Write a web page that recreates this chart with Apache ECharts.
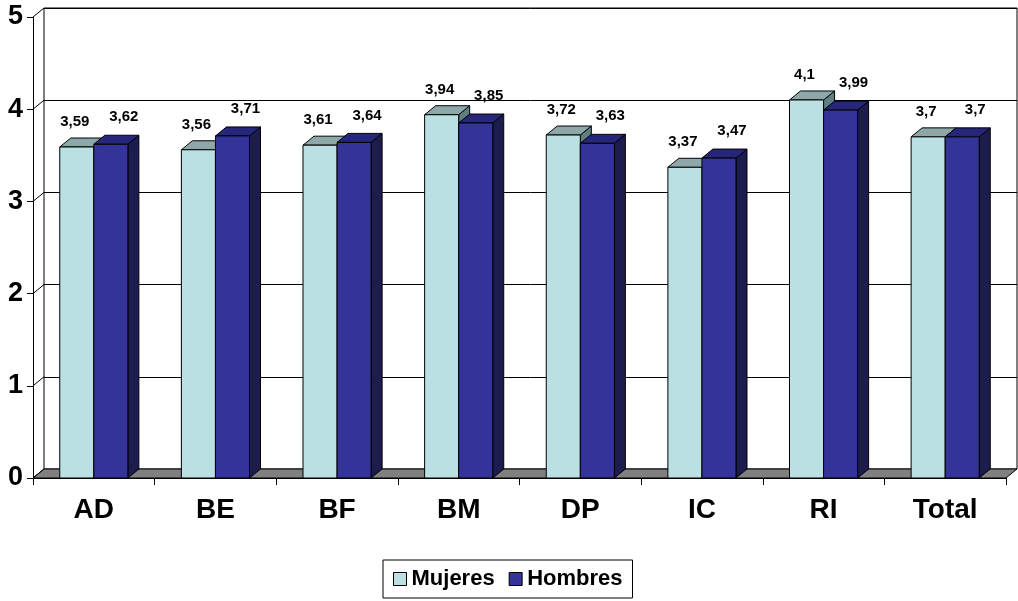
<!DOCTYPE html>
<html>
<head>
<meta charset="utf-8">
<script src="https://cdn.jsdelivr.net/npm/echarts@6/dist/echarts.min.js"></script>
<style>
  html, body { margin: 0; padding: 0; background: #fff; }
  #chart { width: 1018px; height: 601px; }
</style>
</head>
<body>
<div id="chart"></div>
<script>
// Average scores per unit, by gender
const categories = ['AD', 'BE', 'BF', 'BM', 'DP', 'IC', 'RI', 'Total'];
const mujeres = [3.59, 3.56, 3.61, 3.94, 3.72, 3.37, 4.1, 3.7];
const hombres = [3.62, 3.71, 3.64, 3.85, 3.63, 3.47, 3.99, 3.7];
const yTicks = [0, 1, 2, 3, 4, 5];

const FONT = '"Liberation Sans", Arial, Helvetica, sans-serif';
const DX = 11, DY = -9;      // depth offset of the 3D box
const BAR_FRAC = 0.28;       // width of one bar as a share of a category band

const COLORS_M = { front: '#BBE0E3', top: '#8EA8AA', side: '#5F7F81' };
const COLORS_H = { front: '#333399', top: '#26267A', side: '#1C1C4E' };

function fmt(v) { return String(v).replace('.', ','); }

// A box-shaped column: front face, top face, right side face and its value label
function bar3d(side, colors) {
  return function (params, api) {
    const idx = api.value(0), v = api.value(1);
    const top = api.coord([idx, v]);
    const base = api.coord([idx, 0]);
    const band = api.size([1, 0])[0];
    const w = band * BAR_FRAC;
    const x0 = side === 0 ? top[0] - w : top[0];
    const x1 = x0 + w;
    const yt = top[1], yb = base[1];
    const lx = side === 0 ? x0 + w / 2 - 2 : x0 + w / 2 + 13;
    const ly = side === 0 ? yt - 25 : yt - 27;
    const edge = { stroke: '#000', lineWidth: 1 };
    return {
      type: 'group',
      children: [
        { type: 'polygon', shape: { points: [[x1, yt], [x1 + DX, yt + DY], [x1 + DX, yb + DY], [x1, yb]] },
          style: Object.assign({ fill: colors.side }, edge) },
        { type: 'polygon', shape: { points: [[x0, yt], [x1, yt], [x1 + DX, yt + DY], [x0 + DX, yt + DY]] },
          style: Object.assign({ fill: colors.top }, edge) },
        { type: 'rect', shape: { x: x0, y: yt, width: w, height: yb - yt },
          style: Object.assign({ fill: colors.front }, edge) },
        { type: 'text', x: lx, y: ly,
          style: { text: fmt(v), fill: '#000', font: 'bold 15px ' + FONT,
                   align: 'center', verticalAlign: 'middle',
                   textAlign: 'center', textVerticalAlign: 'middle' } }
      ]
    };
  };
}

// Grey floor slab under the columns
function floorItem(params, api) {
  const cs = params.coordSys;
  const yb = api.coord([0, 0])[1];
  const xl = cs.x, xr = cs.x + cs.width;
  return {
    type: 'polygon',
    shape: { points: [[xl, yb], [xr, yb], [xr + DX, yb + DY], [xl + DX, yb + DY]] },
    style: { fill: '#808080', stroke: '#000', lineWidth: 1 }
  };
}

// Short diagonals joining the front value axis to the back wall
function tieItem(params, api) {
  const cs = params.coordSys;
  const y = api.coord([0, api.value(1)])[1];
  return {
    type: 'line',
    shape: { x1: cs.x, y1: y, x2: cs.x + DX, y2: y + DY },
    style: { stroke: '#000', lineWidth: 1 }
  };
}

const chart = echarts.init(document.getElementById('chart'), null, { renderer: 'canvas' });

chart.setOption({
  animation: false,
  backgroundColor: '#fff',
  grid: [
    { left: 33, right: 12, top: 17, bottom: 123 },
    { left: 44, right: 1, top: 8, bottom: 132, show: true,
      borderColor: '#000', borderWidth: 1, backgroundColor: '#fff' }
  ],
  xAxis: [
    { type: 'category', gridIndex: 0, data: categories,
      axisLine: { lineStyle: { color: '#000', width: 1 } },
      axisTick: { show: true, length: 7, lineStyle: { color: '#000' } },
      axisLabel: { margin: 18, fontSize: 28, fontWeight: 'bold', color: '#000', fontFamily: FONT } },
    { type: 'value', gridIndex: 1, show: false, min: 0, max: 1 }
  ],
  yAxis: [
    { type: 'value', gridIndex: 0, min: 0, max: 5, interval: 1,
      axisLine: { show: true, lineStyle: { color: '#000', width: 1 } },
      axisTick: { show: true, length: 6, lineStyle: { color: '#000' } },
      splitLine: { show: false },
      axisLabel: { margin: 10, fontSize: 27, fontWeight: 'bold', color: '#000', fontFamily: FONT } },
    { type: 'value', gridIndex: 1, min: 0, max: 5, interval: 1,
      axisLine: { show: false }, axisTick: { show: false }, axisLabel: { show: false },
      splitLine: { show: true, lineStyle: { color: '#000', width: 1 } } }
  ],
  legend: {
    data: ['Mujeres', 'Hombres'],
    left: 383, top: 560,
    icon: 'rect', itemWidth: 13, itemHeight: 13, itemGap: 14,
    borderColor: '#000', borderWidth: 1, padding: [8, 10, 8, 10],
    itemStyle: { borderColor: '#000', borderWidth: 1 },
    textStyle: { fontSize: 22, fontWeight: 'bold', color: '#000', fontFamily: FONT }
  },
  series: [
    { type: 'custom', name: 'floor', xAxisIndex: 0, yAxisIndex: 0, z: 1,
      renderItem: floorItem, data: [[0, 0]], silent: true },
    { type: 'custom', name: 'ties', xAxisIndex: 0, yAxisIndex: 0, z: 1,
      renderItem: tieItem, data: yTicks.map(t => [0, t]), silent: true },
    { type: 'custom', name: 'Mujeres', xAxisIndex: 0, yAxisIndex: 0, z: 3,
      itemStyle: { color: COLORS_M.front, borderColor: '#000' },
      renderItem: bar3d(0, COLORS_M),
      encode: { x: 0, y: 1 },
      data: mujeres.map((v, i) => [i, v]) },
    { type: 'custom', name: 'Hombres', xAxisIndex: 0, yAxisIndex: 0, z: 4,
      itemStyle: { color: COLORS_H.front, borderColor: '#000' },
      renderItem: bar3d(1, COLORS_H),
      encode: { x: 0, y: 1 },
      data: hombres.map((v, i) => [i, v]) }
  ]
});
</script>
</body>
</html>
